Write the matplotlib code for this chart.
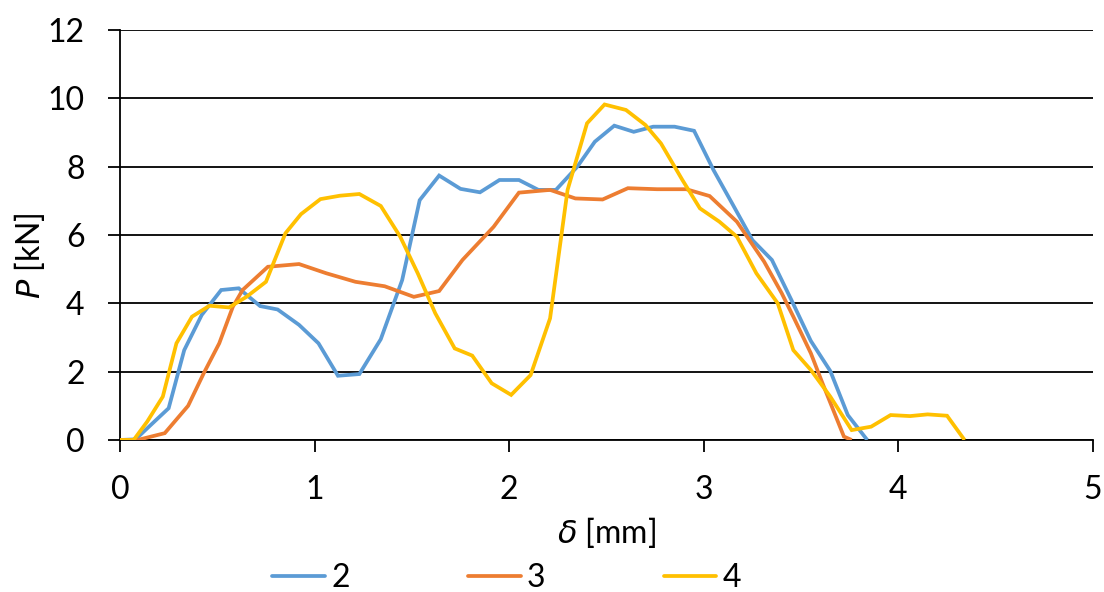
import matplotlib
matplotlib.use("Agg")
import matplotlib.pyplot as plt

# Load–displacement curves for specimens 2, 3 and 4
d2 = [0.00, 0.08, 0.16, 0.25, 0.33, 0.42, 0.52, 0.61, 0.72, 0.81, 0.92, 1.02, 1.12, 1.23,
      1.34, 1.45, 1.54, 1.64, 1.75, 1.85, 1.95, 2.05, 2.15, 2.24, 2.35, 2.44, 2.54, 2.64,
      2.74, 2.85, 2.95, 3.05, 3.15, 3.25, 3.35, 3.45, 3.55, 3.65, 3.74, 3.84]
p2 = [0.00, 0.02, 0.45, 0.93, 2.63, 3.66, 4.39, 4.44, 3.92, 3.82, 3.37, 2.83, 1.88, 1.93,
      2.95, 4.68, 7.02, 7.74, 7.35, 7.25, 7.61, 7.61, 7.32, 7.32, 8.00, 8.73, 9.20, 9.02,
      9.17, 9.17, 9.05, 7.90, 6.88, 5.85, 5.27, 4.10, 2.90, 2.02, 0.73, 0.00]

d3 = [0.00, 0.09, 0.23, 0.35, 0.43, 0.51, 0.58, 0.63, 0.76, 0.92, 1.06, 1.21, 1.36, 1.51,
      1.64, 1.76, 1.92, 2.05, 2.21, 2.34, 2.48, 2.61, 2.76, 2.91, 3.03, 3.17, 3.31, 3.40,
      3.46, 3.55, 3.61, 3.72, 3.76]
p3 = [0.00, 0.00, 0.20, 1.00, 1.95, 2.83, 3.90, 4.39, 5.07, 5.15, 4.88, 4.63, 4.50, 4.19,
      4.36, 5.27, 6.24, 7.24, 7.32, 7.07, 7.04, 7.37, 7.34, 7.34, 7.14, 6.39, 5.22, 4.30,
      3.61, 2.54, 1.66, 0.10, 0.00]

d4 = [0.00, 0.07, 0.14, 0.22, 0.29, 0.37, 0.46, 0.56, 0.65, 0.75, 0.85, 0.93, 1.03, 1.13,
      1.23, 1.34, 1.44, 1.53, 1.62, 1.72, 1.81, 1.91, 2.01, 2.11, 2.21, 2.30, 2.40, 2.49,
      2.60, 2.70, 2.78, 2.89, 2.98, 3.08, 3.17, 3.27, 3.38, 3.46, 3.55, 3.65, 3.76, 3.86,
      3.96, 4.06, 4.15, 4.25, 4.34]
p4 = [0.00, 0.00, 0.54, 1.27, 2.83, 3.61, 3.93, 3.88, 4.19, 4.63, 6.05, 6.61, 7.05, 7.15,
      7.20, 6.85, 5.95, 4.88, 3.71, 2.68, 2.47, 1.66, 1.32, 1.90, 3.56, 7.32, 9.27, 9.82,
      9.66, 9.22, 8.68, 7.61, 6.78, 6.39, 5.95, 4.88, 4.00, 2.63, 2.05, 1.27, 0.29, 0.39,
      0.73, 0.70, 0.75, 0.71, 0.00]

labels = ["2", "3", "4"]
colors = ["#5B9BD5", "#ED7D31", "#FFC000"]

FS = 23
plt.rcParams["font.family"] = ["Lato", "DejaVu Sans"]
plt.rcParams["mathtext.fontset"] = "dejavusans"

fig = plt.figure(figsize=(11.04, 5.92), dpi=100)
ax = fig.add_axes([120 / 1104, 1 - 440 / 592, (1093 - 120) / 1104, (440 - 30) / 592])

for d, p, lab, c in zip([d2, d3, d4], [p2, p3, p4], labels, colors):
    ax.plot(d, p, color=c, lw=2.7, label=lab, solid_joinstyle="miter",
            solid_capstyle="butt", zorder=3)

ax.set_xlim(0, 5)
ax.set_ylim(0, 12)
ax.set_xticks(range(0, 6))
ax.set_yticks(range(0, 13, 2))
ax.yaxis.grid(True, color="black", lw=1.3, zorder=1)
ax.set_axisbelow(True)
for s in ("top", "right"):
    ax.spines[s].set_visible(False)
for s in ("left", "bottom"):
    ax.spines[s].set_linewidth(1.3)
ax.tick_params(axis="both", direction="out", length=8.5, width=1.3, labelsize=FS)
ax.tick_params(axis="y", pad=17)
ax.tick_params(axis="x", pad=17)

ax.set_xlabel(r"$\it{\delta}$ [mm]", fontsize=FS)
ax.xaxis.set_label_coords(0.5005, -0.183)
ax.set_ylabel(r"$\it{P}$ [kN]", fontsize=FS, va="center")
ax.yaxis.set_label_coords(-0.093, 0.45)

leg = fig.legend(loc="center left", bbox_to_anchor=(272 / 1104, 1 - 578 / 592), ncol=3,
                 frameon=False, fontsize=FS, handlelength=1.65, handletextpad=0.2,
                 columnspacing=3.7, borderpad=0, borderaxespad=0)
for line in leg.get_lines():
    line.set_solid_capstyle("round")

fig.savefig("out.png", dpi=100)
